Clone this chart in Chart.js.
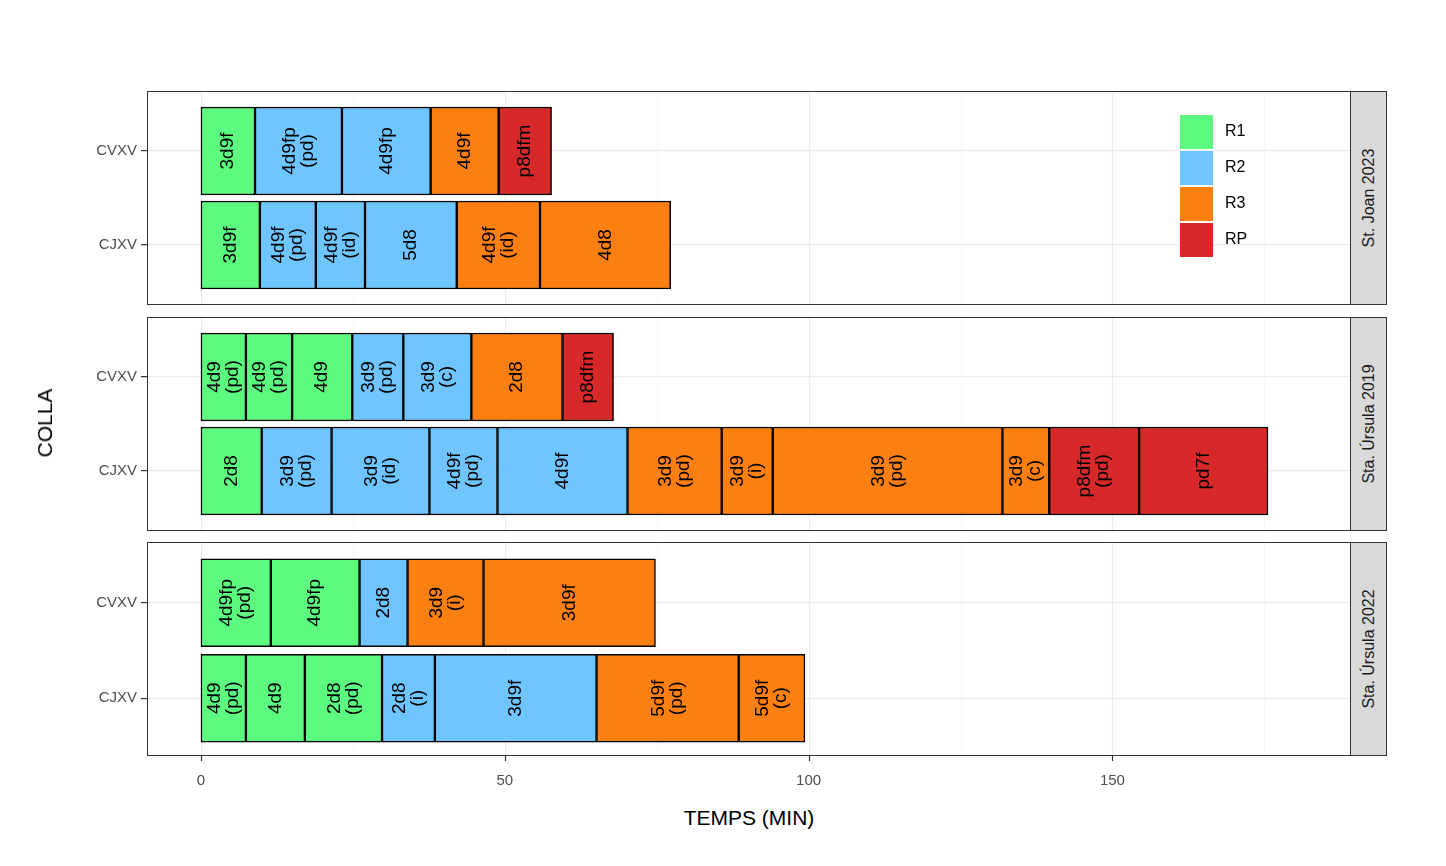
<!DOCTYPE html>
<html>
<head>
<meta charset="utf-8">
<script src="https://cdn.jsdelivr.net/npm/chart.js@4/dist/chart.umd.min.js"></script>
<style>
  body { margin: 0; background: #fff; font-family: "Liberation Sans", Arial, sans-serif; }
  #wrap { position: relative; width: 1446px; height: 866px; }
  .panel { position: absolute; left: 0; }
  .frame { position: absolute; left: 147px; width: 1202px; height: 212px; border: 1px solid #333; pointer-events: none; }
  .strip { position: absolute; left: 1350px; width: 35px; height: 212px; background: #d9d9d9; border: 1px solid #333; }
  .strip span { position: absolute; left: 50%; top: 50%; transform: translate(-50%, -50%) rotate(-90deg); white-space: nowrap; font-size: 16px; color: #1a1a1a; }
  .key { position: absolute; left: 1180px; width: 33px; height: 34px; }
  .keytxt { position: absolute; left: 1225px; font-size: 16px; color: #000; }
</style>
</head>
<body>
<div id="wrap"></div>
<script>
// St. Joan 2023
const joanCvxvNames = ["3d9f", "4d9fp\n(pd)", "4d9fp", "4d9f", "p8dfm"];
const joanCvxvTimes = [8.9, 14.3, 14.6, 11.2, 8.7];
const joanCvxvRounds = ["R1", "R2", "R2", "R3", "RP"];
const joanCjxvNames = ["3d9f", "4d9f\n(pd)", "4d9f\n(id)", "5d8", "4d9f\n(id)", "4d8"];
const joanCjxvTimes = [9.7, 9.2, 8.1, 15.1, 13.7, 21.5];
const joanCjxvRounds = ["R1", "R2", "R2", "R2", "R3", "R3"];
// Sta. Úrsula 2019
const ursula19CvxvNames = ["4d9\n(pd)", "4d9\n(pd)", "4d9", "3d9\n(pd)", "3d9\n(c)", "2d8", "p8dfm"];
const ursula19CvxvTimes = [7.4, 7.6, 9.9, 8.4, 11.2, 15.0, 8.4];
const ursula19CvxvRounds = ["R1", "R1", "R1", "R2", "R2", "R3", "RP"];
const ursula19CjxvNames = ["2d8", "3d9\n(pd)", "3d9\n(id)", "4d9f\n(pd)", "4d9f", "3d9\n(pd)", "3d9\n(i)", "3d9\n(pd)", "3d9\n(c)", "p8dfm\n(pd)", "pd7f"];
const ursula19CjxvTimes = [10.0, 11.5, 16.1, 11.2, 21.4, 15.5, 8.4, 37.8, 7.7, 14.8, 21.2];
const ursula19CjxvRounds = ["R1", "R2", "R2", "R2", "R2", "R3", "R3", "R3", "R3", "RP", "RP"];
// Sta. Úrsula 2022
const ursula22CvxvNames = ["4d9fp\n(pd)", "4d9fp", "2d8", "3d9\n(i)", "3d9f"];
const ursula22CvxvTimes = [11.5, 14.6, 7.9, 12.5, 28.3];
const ursula22CvxvRounds = ["R1", "R1", "R2", "R3", "R3"];
const ursula22CjxvNames = ["4d9\n(pd)", "4d9", "2d8\n(pd)", "2d8\n(i)", "3d9f", "5d9f\n(pd)", "5d9f\n(c)"];
const ursula22CjxvTimes = [7.4, 9.7, 12.7, 8.7, 26.6, 23.4, 10.9];
const ursula22CjxvRounds = ["R1", "R1", "R1", "R2", "R2", "R3", "R3"];

const rounds = ["R1", "R2", "R3", "RP"];
const roundColors = { R1: "#5cfa7f", R2: "#6ec5ff", R3: "#fc7f12", RP: "#d7282a" };
const collaLabels = ["CVXV", "CJXV"];
const xTicks = [0, 25, 50, 75, 100, 125, 150, 175];

const panels = [
  { title: "St. Joan 2023", top: 91,
    bars: [[joanCvxvNames, joanCvxvTimes, joanCvxvRounds], [joanCjxvNames, joanCjxvTimes, joanCjxvRounds]] },
  { title: "Sta. Úrsula 2019", top: 317,
    bars: [[ursula19CvxvNames, ursula19CvxvTimes, ursula19CvxvRounds], [ursula19CjxvNames, ursula19CjxvTimes, ursula19CjxvRounds]] },
  { title: "Sta. Úrsula 2022", top: 542,
    bars: [[ursula22CvxvNames, ursula22CvxvTimes, ursula22CvxvRounds], [ursula22CjxvNames, ursula22CjxvTimes, ursula22CjxvRounds]] },
];

const PANEL_H = 214;
const wrap = document.getElementById("wrap");

// graella vertical a tota l'alçada del panell
const gridPlugin = {
  id: "gridPlugin",
  beforeDatasetsDraw(chart, args, opts) {
    const ctx = chart.ctx;
    const xs = chart.scales.x;
    ctx.save();
    xTicks.forEach((v) => {
      const px = Math.round(xs.getPixelForValue(v)) + 0.5;
      const major = v % 50 === 0;
      ctx.strokeStyle = major ? "#ebebeb" : "#f4f4f4";
      ctx.lineWidth = major ? 1.2 : 0.8;
      ctx.beginPath();
      ctx.moveTo(px, 0);
      ctx.lineTo(px, PANEL_H);
      ctx.stroke();
      if (opts.bottom && major) {
        ctx.strokeStyle = "#333";
        ctx.lineWidth = 1.2;
        ctx.beginPath();
        ctx.moveTo(px, PANEL_H);
        ctx.lineTo(px, PANEL_H + 5);
        ctx.stroke();
      }
    });
    ctx.restore();
  },
};

// etiquetes dins de les barres
const labelPlugin = {
  id: "labelPlugin",
  afterDatasetsDraw(chart) {
    const ctx = chart.ctx;
    ctx.save();
    ctx.font = '19px "Liberation Sans", Arial, sans-serif';
    ctx.fillStyle = "#000";
    ctx.textAlign = "center";
    ctx.textBaseline = "middle";
    chart.data.datasets.forEach((ds, i) => {
      const el = chart.getDatasetMeta(i).data[ds.bar];
      if (!el) return;
      const cx = (el.x + el.base) / 2;
      const lines = ds.label.split("\n");
      ctx.save();
      ctx.translate(cx, el.y);
      ctx.rotate(-Math.PI / 2);
      lines.forEach((ln, j) => {
        ctx.fillText(ln, 0, (j - (lines.length - 1) / 2) * 18);
      });
      ctx.restore();
    });
    ctx.restore();
  },
};

panels.forEach((p, pi) => {
  const bottom = pi === panels.length - 1;
  const h = PANEL_H + (bottom ? 40 : 0);
  const div = document.createElement("div");
  div.className = "panel";
  div.style.top = p.top + "px";
  const canvas = document.createElement("canvas");
  canvas.width = 1350;
  canvas.height = h;
  canvas.style.width = "1350px";
  canvas.style.height = h + "px";
  div.appendChild(canvas);
  wrap.appendChild(div);

  const datasets = [];
  p.bars.forEach(([names, times, rnds], bi) => {
    names.forEach((n, k) => {
      datasets.push({
        label: n,
        bar: bi,
        data: bi === 0 ? [times[k], null] : [null, times[k]],
        backgroundColor: roundColors[rnds[k]],
        borderColor: "#000",
        borderWidth: 1.5,
        borderSkipped: false,
        barThickness: 88,
        stack: "s",
      });
    });
  });

  new Chart(canvas, {
    type: "bar",
    data: { labels: collaLabels, datasets },
    options: {
      responsive: false,
      animation: false,
      indexAxis: "y",
      layout: { padding: { top: 10, bottom: bottom ? 0 : 10, left: 0, right: 0 } },
      plugins: { legend: { display: false }, tooltip: { enabled: false }, gridPlugin: { bottom } },
      scales: {
        x: {
          type: "linear",
          stacked: true,
          min: -8.88,
          max: 189.1,
          afterBuildTicks: (s) => { s.ticks = xTicks.map((v) => ({ value: v })); },
          afterFit: (s) => { s.height = bottom ? 50 : 0; },
          border: { display: false },
          grid: { display: false },
          ticks: {
            display: bottom,
            autoSkip: false,
            maxRotation: 0,
            color: "#4d4d4d",
            font: { size: 15, family: '"Liberation Sans", Arial' },
            padding: 18,
            callback: (v) => (v % 50 === 0 ? String(v) : ""),
          },
        },
        y: {
          type: "category",
          stacked: true,
          offset: true,
          afterFit: (s) => { s.width = 147; },
          border: { display: false },
          grid: { offset: false, color: "#ebebeb", lineWidth: 1.2, tickLength: 6, tickColor: "#333" },
          ticks: {
            color: "#4d4d4d",
            font: { size: 15, family: '"Liberation Sans", Arial' },
            padding: 4,
          },
        },
      },
    },
    plugins: [gridPlugin, labelPlugin],
  });

  const frame = document.createElement("div");
  frame.className = "frame";
  frame.style.top = p.top + "px";
  wrap.appendChild(frame);

  const strip = document.createElement("div");
  strip.className = "strip";
  strip.style.top = p.top + "px";
  strip.innerHTML = "<span>" + p.title + "</span>";
  wrap.appendChild(strip);
});

// llegenda
rounds.forEach((r, i) => {
  const k = document.createElement("div");
  k.className = "key";
  k.style.top = 115 + i * 36 + "px";
  k.style.background = roundColors[r];
  wrap.appendChild(k);
  const t = document.createElement("div");
  t.className = "keytxt";
  t.style.top = 122 + i * 36 + "px";
  t.textContent = r;
  wrap.appendChild(t);
});

// títols dels eixos
const xt = document.createElement("div");
xt.textContent = "TEMPS (MIN)";
xt.style.cssText = "position:absolute;left:749px;top:806px;transform:translateX(-50%);font-size:21px;color:#000;white-space:nowrap";
wrap.appendChild(xt);
const yt = document.createElement("div");
yt.textContent = "COLLA";
yt.style.cssText = "position:absolute;left:45px;top:423px;transform:translate(-50%,-50%) rotate(-90deg);font-size:21px;color:#000;white-space:nowrap";
wrap.appendChild(yt);
</script>
</body>
</html>
